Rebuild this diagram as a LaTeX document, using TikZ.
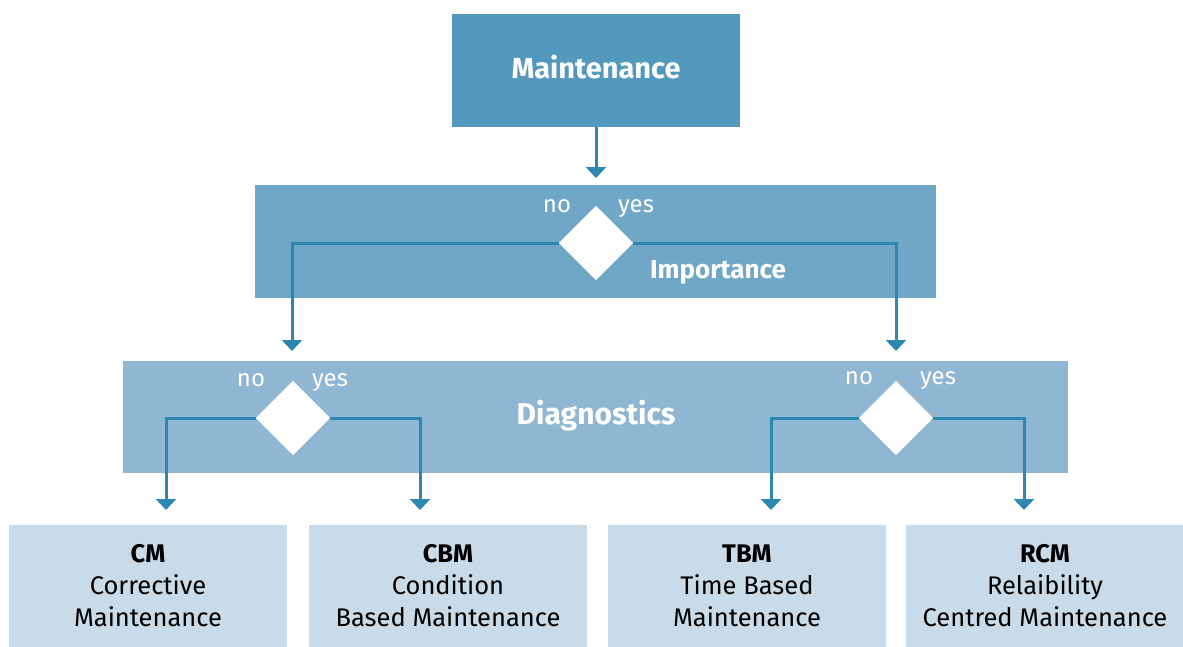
\documentclass[tikz,border=0pt]{standalone}
\usepackage{fontspec}
\setmainfont{Fira Sans}
\usetikzlibrary{shapes.geometric,arrows.meta}
\definecolor{cTop}{HTML}{5399BD}
\definecolor{cImp}{HTML}{71A7C6}
\definecolor{cDia}{HTML}{8FB6D2}
\definecolor{cBot}{HTML}{C9DBE8}
\definecolor{cArr}{HTML}{2C88B0}
\tikzset{
  leaf/.style={fill=cBot, draw=none, minimum width=278pt, minimum height=122pt, inner sep=0,
    align=center, font=\fontsize{25.5}{32}\selectfont, text=black},
  dec/.style={diamond, aspect=1, fill=white, draw=none, minimum width=74pt, minimum height=74pt, inner sep=0},
  lbl/.style={text=white, font=\fontsize{24}{28}\selectfont, inner sep=0, anchor=base},
  ttl/.style={text=white, font=\fontsize{#1}{30}\selectfont\bfseries, inner sep=0},
  arr/.style={draw=cArr, line width=3pt, -{Triangle[width=20pt,length=11pt]}},
}
\begin{document}
\begin{tikzpicture}[x=1pt,y=-1pt]
\useasboundingbox (0,0) rectangle (1183,646);
% bands
\fill[cTop] (452,14) rectangle (740,127);
\node[ttl=29] (maint) at (596,67) {Maintenance};
\coordinate (topS) at (596,127);
\fill[cImp] (255,185) rectangle (936,298);
\fill[cDia] (123,361) rectangle (1068,473);
% leaves
\node[leaf] (cm)  at (148,586) {\textbf{CM}\\Corrective\\Maintenance};
\node[leaf] (cbm) at (448,586) {\textbf{CBM}\\Condition\\Based Maintenance};
\node[leaf] (tbm) at (747,586) {\textbf{TBM}\\Time Based\\Maintenance};
\node[leaf] (rcm) at (1045,586) {\textbf{RCM}\\Relaibility\\Centred Maintenance};
% tips
\coordinate (t0) at (596,178);
\coordinate (t1) at (292,351);
\coordinate (t2) at (896,351);
\coordinate (t3) at (166,510);
\coordinate (t4) at (420,510);
\coordinate (t5) at (771,510);
\coordinate (t6) at (1024,510);
% connectors
\node[dec] (d1) at (596,243) {};
\node[dec] (d2) at (293,418) {};
\node[dec] (d3) at (896,418) {};
\draw[arr] (topS) -- (t0);
\draw[arr] (d1.west) -| (t1);
\draw[arr] (d1.east) -| (t2);
\draw[arr] (d2.west) -| (t3);
\draw[arr] (d2.east) -| (t4);
\draw[arr] (d3.west) -| (t5);
\draw[arr] (d3.east) -| (t6);
\node[dec] at (596,243) {};
\node[dec] at (293,418) {};
\node[dec] at (896,418) {};
% labels
\node[lbl] (n1) at (557,212) {no};
\node[lbl] (y1) at (636,212) {yes};
\node[ttl=26] (imp) at (718,272) {Importance};
\node[lbl] (n2) at (251,386) {no};
\node[lbl] (y2) at (330,386) {yes};
\node[lbl] (n3) at (859,384) {no};
\node[lbl] (y3) at (938,384) {yes};
\node[ttl=30] (diag) at (596,416) {Diagnostics};
\end{tikzpicture}
\end{document}
